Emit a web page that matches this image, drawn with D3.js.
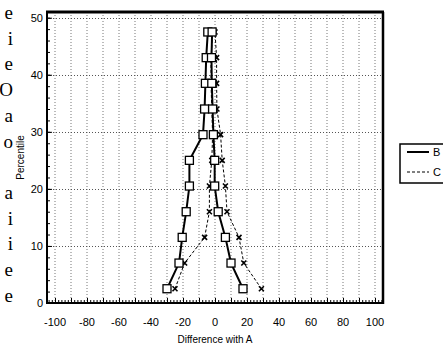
<!DOCTYPE html>
<html><head><meta charset="utf-8">
<script src="https://cdn.jsdelivr.net/npm/d3@7"></script>
<style>html,body{margin:0;padding:0;background:#fff;}svg{display:block;}</style>
</head><body>
<script>
// ---- data ----
const percentiles = [2.5, 7, 11.5, 16, 20.5, 25, 29.5, 34, 38.5, 43, 47.5];
const bLower = [-30, -22.5, -20.5, -18, -16, -16, -7.5, -6.5, -6, -5.5, -4.5];
const bUpper = [17.5, 10, 6.5, 2, -0.2, -0.2, -1, -1.5, -2, -2.2, -1.8];
const cLower = [-25, -19, -6.5, -3.5, -3.5, -2, -1.5, -2, -2.5, -2.5, -1.5];
const cUpper = [29, 18, 15, 7.5, 6.5, 4.5, 3.5, 1.2, 1, 1, 0];
const xTicks = [-100, -80, -60, -40, -20, 0, 20, 40, 60, 80, 100];
const yTicks = [0, 10, 20, 30, 40, 50];
const seriesNames = ["B", "C"];
const sideLetters = ["e", "i", "e", "O", "a", "o", "", "a", "i", "i", "e", "e"];

const W = 443, H = 345;
const svg = d3.select("body").append("svg").attr("width", W).attr("height", H);
const L = 47, R = 383, T = 12, B = 303;
const x = d3.scaleLinear().domain([-105, 105]).range([L, R]);
const y = d3.scaleLinear().domain([0, 51]).range([B, T]);

// stray serif letters at left edge
svg.append("g").selectAll("text").data(sideLetters).join("text")
  .attr("x", 13).attr("y", (d, i) => 19 + i * 25.7)
  .attr("text-anchor", "end")
  .attr("font-family", "Liberation Serif, serif").attr("font-size", 19)
  .text(d => d);

// grid
const grid = svg.append("g");
grid.selectAll("line.v").data(d3.range(-100, 101, 10)).join("line")
  .attr("x1", d => x(d)).attr("x2", d => x(d)).attr("y1", T).attr("y2", B)
  .attr("stroke", "#777").attr("stroke-width", 1).attr("stroke-dasharray", "1,2");
grid.selectAll("line.h").data(yTicks.filter(d => d > 0)).join("line")
  .attr("y1", d => Math.round(y(d)) + 0.5).attr("y2", d => Math.round(y(d)) + 0.5).attr("x1", L).attr("x2", R)
  .attr("stroke", "#555").attr("stroke-width", 1).attr("stroke-dasharray", "1,2");

// axes (ticks inward)
const xAxisMinor = d3.axisTop(x).tickValues(d3.range(-104, 105, 2)).tickSize(3).tickFormat("");
const xAxisMajor = d3.axisTop(x).tickValues(d3.range(-100, 101, 10)).tickSize(5).tickFormat("");
svg.append("g").attr("transform", `translate(0,${B})`).call(xAxisMinor).call(g => g.select(".domain").remove());
svg.append("g").attr("transform", `translate(0,${B})`).call(xAxisMajor).call(g => g.select(".domain").remove());
const yAxisMinor = d3.axisRight(y).tickValues(d3.range(0, 51, 2)).tickSize(3).tickFormat("");
const yAxisMajor = d3.axisRight(y).tickValues(yTicks).tickSize(5).tickFormat("");
svg.append("g").attr("transform", `translate(${L},0)`).call(yAxisMinor).call(g => g.select(".domain").remove());
svg.append("g").attr("transform", `translate(${L},0)`).call(yAxisMajor).call(g => g.select(".domain").remove());
svg.selectAll(".tick line").attr("stroke", "#000");

// tick labels
svg.append("g").selectAll("text").data(xTicks).join("text")
  .attr("x", d => x(d)).attr("y", 326).attr("text-anchor", "middle")
  .attr("font-family", "Liberation Sans, Arial, sans-serif").attr("font-size", 11)
  .text(d => d);
svg.append("g").selectAll("text").data(yTicks).join("text")
  .attr("x", 43).attr("y", d => y(d) + 4).attr("text-anchor", "end")
  .attr("font-family", "Liberation Sans, Arial, sans-serif").attr("font-size", 11)
  .text(d => d);

// axis titles
svg.append("text").attr("x", (L + R) / 2).attr("y", 343).attr("text-anchor", "middle")
  .attr("font-family", "Liberation Sans, Arial, sans-serif").attr("font-size", 10)
  .text("Difference with A");
svg.append("text").attr("transform", `translate(24,${(T + B) / 2}) rotate(-90)`).attr("text-anchor", "middle")
  .attr("font-family", "Liberation Sans, Arial, sans-serif").attr("font-size", 10)
  .text("Percentile");

// frame
svg.append("line").attr("x1", L - 1).attr("x2", R + 1).attr("y1", T).attr("y2", T).attr("stroke", "#000").attr("stroke-width", 3);
svg.append("line").attr("x1", L).attr("x2", L).attr("y1", T).attr("y2", B + 1).attr("stroke", "#000").attr("stroke-width", 2);
svg.append("line").attr("x1", L - 1).attr("x2", R + 1).attr("y1", B).attr("y2", B).attr("stroke", "#000").attr("stroke-width", 2);
svg.append("line").attr("x1", R).attr("x2", R).attr("y1", T).attr("y2", B + 1).attr("stroke", "#000").attr("stroke-width", 2.5);

// series
const line = d3.line().x(d => x(d[0])).y(d => y(d[1]));
const zip = arr => arr.map((v, i) => [v, percentiles[i]]);

[cLower, cUpper].forEach(arr => {
  svg.append("path").datum(zip(arr)).attr("d", line).attr("fill", "none")
    .attr("stroke", "#000").attr("stroke-width", 1).attr("stroke-dasharray", "3,2");
});
[bLower, bUpper].forEach(arr => {
  svg.append("path").datum(zip(arr)).attr("d", line).attr("fill", "none")
    .attr("stroke", "#000").attr("stroke-width", 2);
});
[cLower, cUpper].forEach(arr => {
  const g = svg.append("g");
  zip(arr).forEach(d => {
    const cx = x(d[0]), cy = y(d[1]), s = 2.5;
    g.append("path").attr("d", `M${cx - s},${cy - s}L${cx + s},${cy + s}M${cx - s},${cy + s}L${cx + s},${cy - s}`)
      .attr("stroke", "#000").attr("stroke-width", 1.6);
  });
});
[bLower, bUpper].forEach(arr => {
  svg.append("g").selectAll("rect").data(zip(arr)).join("rect")
    .attr("x", d => x(d[0]) - 4).attr("y", d => y(d[1]) - 4).attr("width", 8).attr("height", 8)
    .attr("fill", "#fff").attr("stroke", "#000").attr("stroke-width", 1.3);
});

// legend
const lg = svg.append("g");
lg.append("rect").attr("x", 400).attr("y", 144).attr("width", 60).attr("height", 39)
  .attr("fill", "#fff").attr("stroke", "#000").attr("stroke-width", 1.5);
lg.append("line").attr("x1", 407).attr("x2", 429).attr("y1", 152).attr("y2", 152).attr("stroke", "#000").attr("stroke-width", 2);
lg.append("line").attr("x1", 407).attr("x2", 429).attr("y1", 172).attr("y2", 172).attr("stroke", "#000").attr("stroke-width", 1).attr("stroke-dasharray", "3,2");
lg.selectAll("text").data(seriesNames).join("text")
  .attr("x", 433).attr("y", (d, i) => 156 + i * 20)
  .attr("font-family", "Liberation Sans, Arial, sans-serif").attr("font-size", 11)
  .text(d => d);
</script>
</body></html>
